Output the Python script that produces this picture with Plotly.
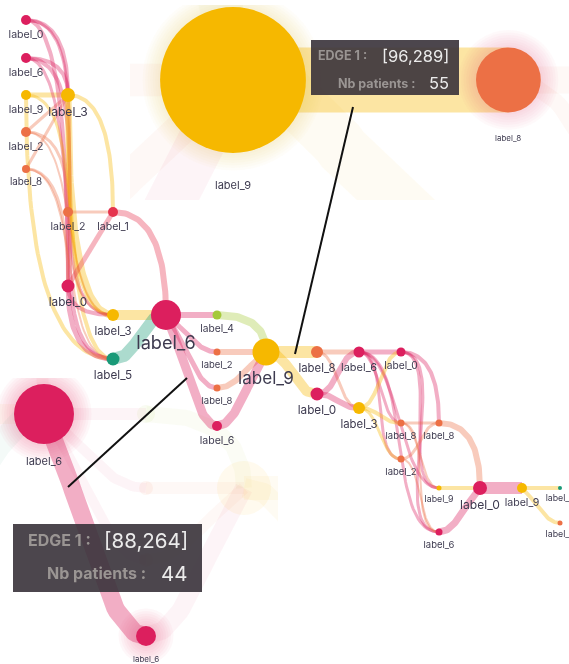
import numpy as np
import plotly.graph_objects as go

W, H = 569, 664

# ---------------- data ----------------
node_labels = ["label_0", "label_6", "label_9", "label_2", "label_8",
               "label_3", "label_2", "label_1", "label_0", "label_3",
               "label_5", "label_6", "label_4", "label_2", "label_8",
               "label_6", "label_9", "label_8", "label_0", "label_6",
               "label_3", "label_0", "label_8", "label_2", "label_8",
               "label_9", "label_6", "label_0", "label_9", "label_5",
               "label_8"]
node_x = [26, 26, 26, 26, 26, 68, 68, 113, 68, 113, 113, 166, 217, 217, 217,
          217, 266, 317, 317, 359, 359, 401, 401, 401, 439, 439, 439, 480,
          522, 560, 560]
node_y = [20, 58, 95, 132, 169, 95, 212, 212, 286, 315, 359, 315, 315, 352,
          388, 426, 352, 352, 394, 352, 408, 352, 423, 459, 423, 488, 532,
          488, 488, 488, 523]
node_weight = [10, 10, 10, 10, 8, 14, 10, 10, 13, 12, 13, 30, 9, 7, 7, 10, 27,
               12, 13, 11, 12, 9, 7, 7, 7, 5, 7, 14, 10, 4, 5]

edge_src = [0, 1, 2, 3, 4, 0, 1, 1, 0, 2, 2, 3, 4, 3, 4, 5, 5, 5, 6, 6, 7, 7,
            8, 8, 9, 10, 11, 11, 11, 11, 12, 13, 14, 15, 16, 16, 17, 17, 18,
            18, 19, 19, 19, 19, 19, 20, 20, 20, 21, 21, 21, 22, 22, 22, 23,
            23, 24, 25, 26, 27, 28, 28]
edge_tgt = [5, 5, 5, 5, 5, 8, 8, 10, 9, 10, 9, 6, 8, 9, 10, 9, 7, 10, 7, 9,
            11, 8, 9, 10, 11, 11, 12, 13, 14, 15, 16, 16, 16, 16, 17, 18, 19,
            20, 19, 20, 21, 22, 23, 25, 26, 21, 22, 23, 24, 25, 26, 24, 25,
            26, 24, 26, 27, 27, 27, 28, 29, 30]
edge_weight = [4, 4, 5, 3, 3, 4, 3, 4, 3, 4, 3, 3, 3, 2, 2, 7, 4, 4, 3, 2, 6,
               5, 4, 5, 10, 12, 6, 5, 5, 9, 8, 6, 6, 9, 12, 10, 5, 3, 6, 6, 5,
               3, 3, 3, 3, 4, 4, 3, 4, 3, 3, 3, 2, 2, 3, 2, 6, 4, 7, 12, 4, 4]
edge_bend = ["hv", "hv", "hh", "s", "s", "hv", "hv", "hh", "hh", "vh", "hh",
             "hv", "hv", "hh", "hh", "vh", "hv", "vh", "hh", "vh", "hv", "s",
             "vh", "vh", "hh", "hh", "hh", "dh", "dh", "dh", "hv", "hh", "hd",
             "hd", "hh", "hh", "hh", "hh", "hh", "hh", "hh", "hh", "hh", "hh",
             "hh", "hh", "hh", "hh", "hv", "hh", "hh", "hh", "hh", "hh", "hh",
             "hh", "hv", "hh", "hd", "hh", "hh", "dh"]

tooltip_title = ["EDGE 1 :", "EDGE 1 :"]
tooltip_edge = ["[96,289]", "[88,264]"]
tooltip_key = ["Nb patients :", "Nb patients :"]
tooltip_patients = ["55", "44"]

# ---------------- style ----------------
LABEL_COLORS = {
    "label_0": "#DC1F5E", "label_6": "#DC1F5E", "label_1": "#E5334D",
    "label_9": "#F6B800", "label_3": "#F6B800", "label_2": "#EC7045",
    "label_8": "#EC7045", "label_4": "#A5C93A", "label_5": "#1A9A78",
}
TEXT = "#3d3a4f"
FONT = "Inter, Noto Sans, sans-serif"
EDGE_ALPHA = 0.36


def rgba(hx, a):
    hx = hx.lstrip("#")
    r, g, b = int(hx[0:2], 16), int(hx[2:4], 16), int(hx[4:6], 16)
    return f"rgba({r},{g},{b},{a})"


def ncolor(i):
    return LABEL_COLORS[node_labels[i]]


def edge_curve(i, n=50):
    s, t = edge_src[i], edge_tgt[i]
    P0 = np.array([node_x[s], node_y[s]], float)
    P3 = np.array([node_x[t], node_y[t]], float)
    dx, dy = P3 - P0
    m = edge_bend[i]
    if m == "hh":
        c = max(abs(dx) * 0.5, abs(dy) * 0.3) * (1 if dx >= 0 else -1)
        P1 = P0 + [c, 0]
        P2 = P3 - [c, 0]
    elif m == "hv":
        P1 = P0 + [2 / 3 * dx, 0]
        P2 = P3 - [0, 2 / 3 * dy]
    elif m == "vh":
        P1 = P0 + [0, 2 / 3 * dy]
        P2 = P3 - [2 / 3 * dx, 0]
    elif m == "dh":
        P1 = P0 + 0.4 * np.array([dx, dy])
        P2 = P3 - [0.4 * dx, 0]
    elif m == "hd":
        P1 = P0 + [0.4 * dx, 0]
        P2 = P3 - 0.4 * np.array([dx, dy])
    else:
        P1 = P0 + (P3 - P0) / 3
        P2 = P0 + 2 * (P3 - P0) / 3
    tt = np.linspace(0, 1, n)[:, None]
    pts = ((1 - tt) ** 3 * P0 + 3 * (1 - tt) ** 2 * tt * P1
           + 3 * (1 - tt) * tt ** 2 * P2 + tt ** 3 * P3)
    return pts[:, 0], pts[:, 1]


def label_font(i):
    return max(8.8, 6.8 + 0.38 * node_weight[i])


fig = go.Figure()
layout_axes = {}
annotations = []
shapes = []


def px(x):
    return x / W


def py(y):
    return 1 - y / H


def find_edge(s, t):
    for i in range(len(edge_src)):
        if edge_src[i] == s and edge_tgt[i] == t:
            return i
    return None


# ---------------- insets (magnified views) ----------------
INSETS = [
    dict(edge=(16, 17), box=(130, 5, 569, 200), scale=5.4, anchor=(233, 80),
         fonts=(11, 8), gaps=(32, 26), glow=0.028),
    dict(edge=(11, 15), box=(0, 378, 278, 664), scale=2.0, anchor=(44, 414),
         fonts=(11, 8), gaps=(17, 13), glow=0.04),
]

for k, ins in enumerate(INSETS):
    xa = "x" if k == 0 else f"x{k + 1}"
    ya = "y" if k == 0 else f"y{k + 1}"
    xkey = "xaxis" if k == 0 else f"xaxis{k + 1}"
    ykey = "yaxis" if k == 0 else f"yaxis{k + 1}"
    bx0, by0, bx1, by1 = ins["box"]
    s = ins["scale"]
    src, tgt = ins["edge"]
    xmin = node_x[src] - (ins["anchor"][0] - bx0) / s
    ymin = node_y[src] - (ins["anchor"][1] - by0) / s
    xmax = xmin + (bx1 - bx0) / s
    ymax = ymin + (by1 - by0) / s
    layout_axes[xkey] = dict(domain=[px(bx0), px(bx1)], range=[xmin, xmax],
                             visible=False, anchor=ya, fixedrange=True)
    layout_axes[ykey] = dict(domain=[py(by1), py(by0)], range=[ymax, ymin],
                             visible=False, anchor=xa, fixedrange=True)
    fe = find_edge(src, tgt)
    # faded edges
    for i in range(len(edge_src)):
        if i == fe:
            continue
        ex, ey = edge_curve(i)
        fig.add_trace(go.Scatter(
            x=ex, y=ey, mode="lines", xaxis=xa, yaxis=ya, opacity=0.13,
            line=dict(color=rgba(ncolor(edge_src[i]), EDGE_ALPHA),
                      width=edge_weight[i] * s),
            hoverinfo="skip", showlegend=False))
    # focus edge
    ex, ey = edge_curve(fe)
    fig.add_trace(go.Scatter(
        x=ex, y=ey, mode="lines", xaxis=xa, yaxis=ya,
        line=dict(color=rgba(ncolor(src), EDGE_ALPHA),
                  width=edge_weight[fe] * s),
        hoverinfo="skip", showlegend=False))
    # faded nodes
    others = [i for i in range(len(node_x)) if i not in (src, tgt)]
    fig.add_trace(go.Scatter(
        x=[node_x[i] for i in others], y=[node_y[i] for i in others],
        mode="markers", xaxis=xa, yaxis=ya, opacity=0.07,
        marker=dict(size=[node_weight[i] * s for i in others],
                    color=[ncolor(i) for i in others], line=dict(width=0),
                    opacity=1),
        hoverinfo="skip", showlegend=False))
    # glow + focus nodes
    for j, ni in enumerate((src, tgt)):
        d = node_weight[ni] * s
        glow = "#E8507A" if node_labels[ni] != "label_9" else "#F2C24A"
        for g in range(7, 0, -1):
            fig.add_trace(go.Scatter(
                x=[node_x[ni]], y=[node_y[ni]], mode="markers",
                xaxis=xa, yaxis=ya, opacity=ins["glow"],
                marker=dict(size=d + g * 5, color=glow, line=dict(width=0),
                            opacity=1),
                hoverinfo="skip", showlegend=False))
        fig.add_trace(go.Scatter(
            x=[node_x[ni]], y=[node_y[ni]], mode="markers",
            xaxis=xa, yaxis=ya,
            marker=dict(size=d, color=ncolor(ni), line=dict(width=0),
                        opacity=1),
            hoverinfo="skip", showlegend=False))
        annotations.append(dict(
            x=node_x[ni], y=node_y[ni], xref=xa, yref=ya, showarrow=False,
            text=node_labels[ni], yanchor="middle",
            yshift=-(d / 2 + ins["gaps"][j]),
            font=dict(family=FONT, size=ins["fonts"][j], color=TEXT)))

# ---------------- main graph ----------------
for i in range(len(edge_src)):
    ex, ey = edge_curve(i)
    fig.add_trace(go.Scatter(
        x=ex, y=ey, mode="lines", xaxis="x3", yaxis="y3",
        line=dict(color=rgba(ncolor(edge_src[i]), EDGE_ALPHA),
                  width=edge_weight[i]),
        hoverinfo="skip", showlegend=False))

fig.add_trace(go.Scatter(
    x=node_x, y=node_y, mode="markers", xaxis="x3", yaxis="y3",
    marker=dict(size=node_weight, color=[ncolor(i) for i in range(len(node_x))],
                line=dict(width=0), opacity=1),
    hoverinfo="skip", showlegend=False))

# node labels, placed below each node (main scale: 1 unit = 1 px)
lab_sizes = [label_font(i) for i in range(len(node_x))]
lab_y = [node_y[i] + node_weight[i] / 2 + 4 + 0.6 * lab_sizes[i]
         for i in range(len(node_x))]
fig.add_trace(go.Scatter(
    x=node_x, y=lab_y, mode="text", xaxis="x3", yaxis="y3",
    text=node_labels, textposition="middle center",
    textfont=dict(family=FONT, color=TEXT, size=lab_sizes),
    cliponaxis=False, hoverinfo="skip", showlegend=False))

layout_axes["xaxis3"] = dict(domain=[0, 1], range=[0, W], visible=False,
                             anchor="y3", fixedrange=True)
layout_axes["yaxis3"] = dict(domain=[0, 1], range=[H, 0], visible=False,
                             anchor="x3", fixedrange=True)

# ---------------- connectors and tooltips ----------------
CONNECTORS = [((353, 107), (295, 354)), ((187, 378), (68, 487))]
for (a, b) in CONNECTORS:
    shapes.append(dict(type="line", xref="paper", yref="paper",
                       x0=px(a[0]), y0=py(a[1]), x1=px(b[0]), y1=py(b[1]),
                       line=dict(color="#111111", width=2), layer="above"))

TOOLTIPS = [
    dict(box=(311, 40, 459, 95), row_y=(56, 83), title_x=316, key_x=417,
         val_x=451, fsmall=12.5, fbig=16.5),
    dict(box=(13, 524, 202, 592), row_y=(540, 573), title_x=26, key_x=148,
         val_x=190, fsmall=16, fbig=20.5),
]
for k, tp in enumerate(TOOLTIPS):
    x0, y0, x1, y1 = tp["box"]
    shapes.append(dict(type="rect", xref="paper", yref="paper",
                       x0=px(x0), y0=py(y1), x1=px(x1), y1=py(y0),
                       fillcolor="rgba(56,50,58,0.9)", line=dict(width=0),
                       layer="above"))
    annotations.append(dict(
        x=px(tp["title_x"]), y=py(tp["row_y"][0]), xref="paper", yref="paper",
        xanchor="left", yanchor="middle", showarrow=False,
        text="<b>" + tooltip_title[k] + "</b>",
        font=dict(family=FONT, size=tp["fsmall"], color="#9a9593")))
    annotations.append(dict(
        x=px(tp["val_x"]), y=py(tp["row_y"][0]), xref="paper", yref="paper",
        xanchor="right", yanchor="middle", showarrow=False,
        text=tooltip_edge[k],
        font=dict(family=FONT, size=tp["fbig"], color="#ececec")))
    annotations.append(dict(
        x=px(tp["key_x"]), y=py(tp["row_y"][1]), xref="paper", yref="paper",
        xanchor="right", yanchor="middle", showarrow=False,
        text="<b>" + tooltip_key[k] + "</b>",
        font=dict(family=FONT, size=tp["fsmall"], color="#9a9593")))
    annotations.append(dict(
        x=px(tp["val_x"]), y=py(tp["row_y"][1]), xref="paper", yref="paper",
        xanchor="right", yanchor="middle", showarrow=False,
        text=tooltip_patients[k],
        font=dict(family=FONT, size=tp["fbig"], color="#ececec")))

fig.update_layout(
    width=W, height=H, margin=dict(l=0, r=0, t=0, b=0),
    paper_bgcolor="white", plot_bgcolor="rgba(0,0,0,0)",
    showlegend=False, annotations=annotations, shapes=shapes,
    hovermode=False, **layout_axes)

fig.write_html("out.html", config={"displayModeBar": False},
               post_script="document.body.style.margin='0';")
